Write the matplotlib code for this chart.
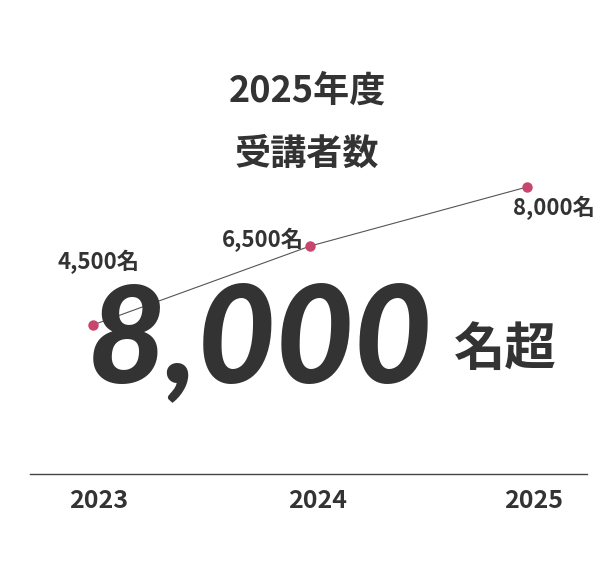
import matplotlib
matplotlib.use("Agg")
import matplotlib.pyplot as plt
import matplotlib.transforms as mtransforms

plt.rcParams['font.family'] = ['Noto Sans CJK JP', 'DejaVu Sans']

# data
years = ['2023', '2024', '2025']
students = [4500, 6500, 8000]
point_labels = ['4,500名', '6,500名', '8,000名']
title_lines = ['2025年度', '受講者数']
big_number = '8,000'
big_suffix = '名超'

TXT = '#333333'
PINK = '#c8456d'

fig = plt.figure(figsize=(6.14, 5.88), dpi=100)
ax = fig.add_axes([30 / 614, (588 - 474) / 588, (587 - 30) / 614, (474 - 170) / 588])

x = list(range(len(years)))
ax.plot(x, students, color='#555555', lw=0.8, zorder=3)
ax.plot(x, students, 'o', color=PINK, ms=7.5, mec='none', zorder=4)

ax.set_xlim(-0.29, 2.276)
ax.set_ylim(718, 8431)

for s in ['top', 'right', 'left']:
    ax.spines[s].set_visible(False)
ax.spines['bottom'].set_color('#444444')
ax.spines['bottom'].set_linewidth(1.0)
ax.set_yticks([])
ax.set_xticks(x)
ax.set_xticklabels(years, fontsize=18, fontweight='bold', color=TXT)
ax.tick_params(axis='x', length=0, pad=11)
dx = [6, 8, 6]
for lbl, d in zip(ax.get_xticklabels(), dx):
    lbl.set_transform(lbl.get_transform() + mtransforms.ScaledTranslation(d / 100, 0, fig.dpi_scale_trans))

# point labels
offsets = [(6, 63), (-47, 6), (27, -21)]
for xi, v, lab, (ox, oy) in zip(x, students, point_labels, offsets):
    ax.annotate(lab, (xi, v), xytext=(ox, oy), textcoords='offset pixels',
                ha='center', va='center', fontsize=16, fontweight='bold', color=TXT)

# title
fig.text(0.5, 1 - 91 / 588, title_lines[0], ha='center', va='center',
         fontsize=26, fontweight='bold', color=TXT)
fig.text(0.5, 1 - 154 / 588, title_lines[1], ha='center', va='center',
         fontsize=26, fontweight='bold', color=TXT)

# big headline number
fig.text(260 / 614, 1 - 343 / 588, big_number, ha='center', va='center',
         fontsize=97, fontweight='black', style='italic', color=TXT,
         family=['Lato', 'DejaVu Sans'], zorder=2)
fig.text(505 / 614, 1 - 349 / 588, big_suffix, ha='center', va='center',
         fontsize=37, fontweight='bold', color=TXT)

fig.savefig('out.png', dpi=100, facecolor='white')
